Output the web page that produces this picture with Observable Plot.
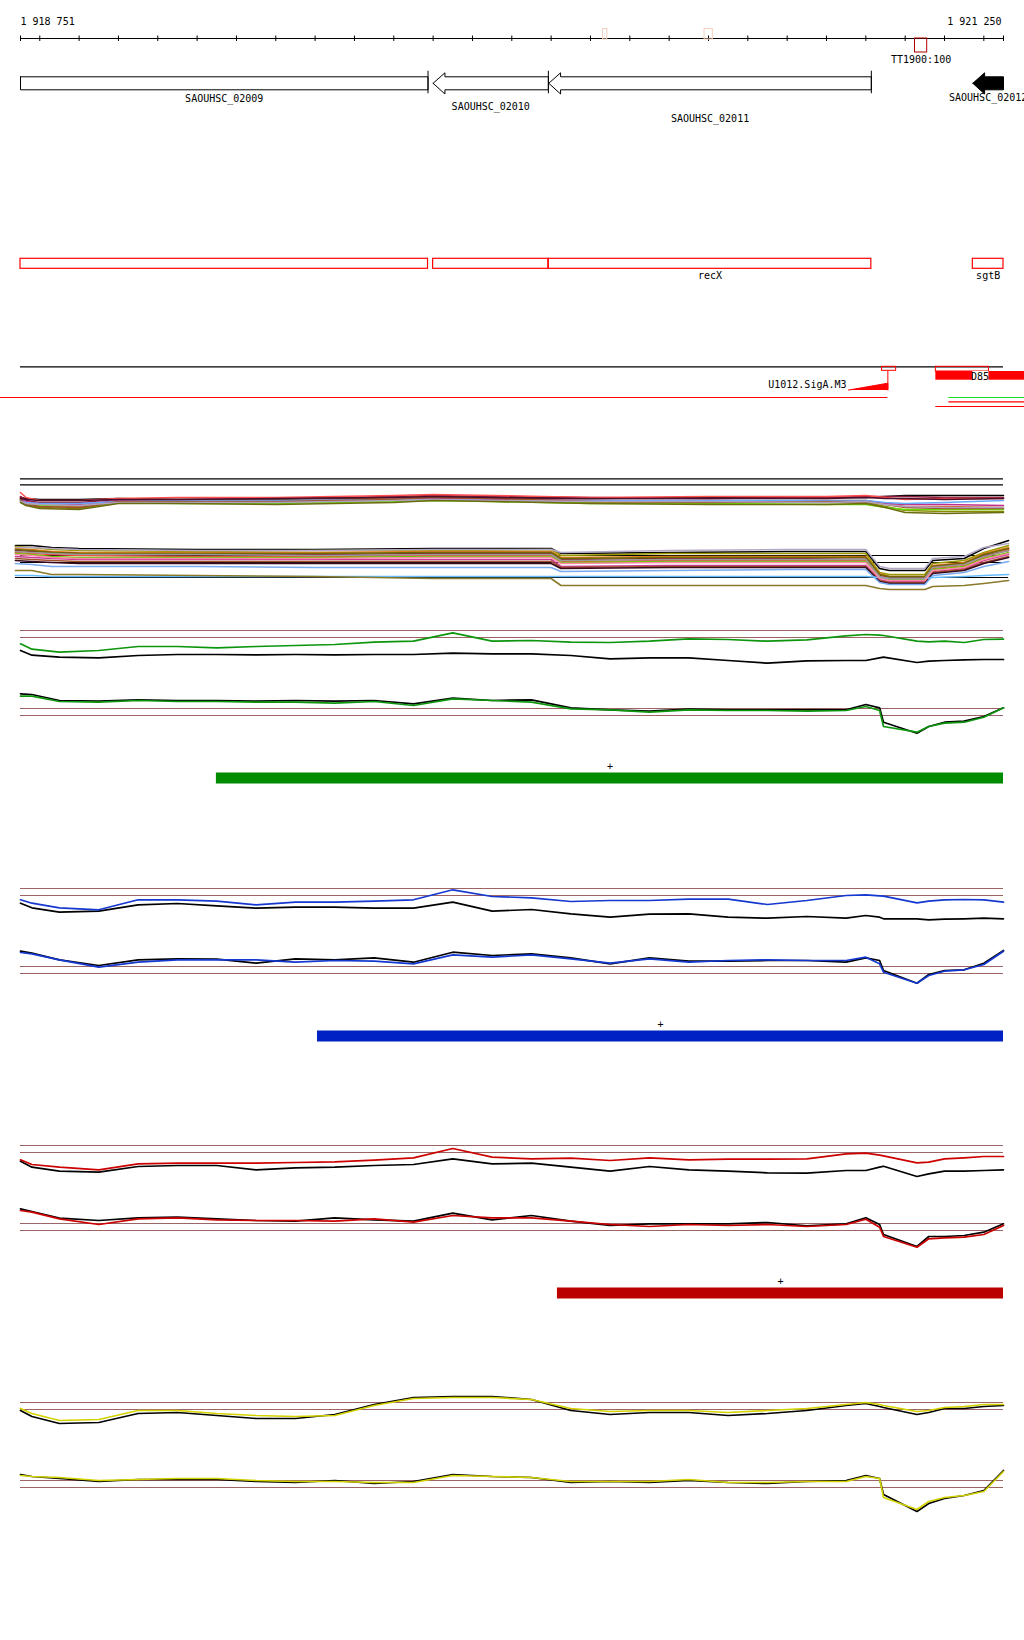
<!DOCTYPE html>
<html><head><meta charset="utf-8">
<script src="https://cdn.jsdelivr.net/npm/d3@7"></script>
<script src="https://cdn.jsdelivr.net/npm/@observablehq/plot@0.6"></script>
<style>
body{margin:0;background:#fff}
#wrap{position:relative;width:1024px;height:1640px;overflow:hidden;background:#fff}
#wrap>svg{position:absolute;left:0}
</style></head><body><div id="wrap"></div>
<script>
// ---------------- data ----------------
const START = 1918751, END = 1921250;
const rulerEnds = [1918751, 1921250];
const rulerTicks = [1918751,1918800,1918900,1919000,1919100,1919200,1919300,1919400,1919500,1919600,1919700,1919800,1919900,1920000,1920100,1920200,1920300,1920400,1920500,1920600,1920700,1920800,1920900,1921000,1921100,1921200,1921250];
const faintMarks = [{start:1920232,end:1920243},{start:1920490,end:1920511}];
const terminators = [{name:"TT1900:100",start:1921025,end:1921056}];
const geneNames = ["SAOUHSC_02009","SAOUHSC_02010","SAOUHSC_02011","SAOUHSC_02012"];
const geneSymbols = ["","","recX","sgtB"];
const geneStarts = [1918520,1919800,1920094,1921172];
const geneEnds = [1919787,1920093,1920914,1921700];
const geneStrands = ["-","-","-","-"];
const geneFilled = [false,false,false,true];
const promoters = [{name:"U1012.SigA.M3",start:1920856,site:1920956,boxStart:1920941,boxEnd:1920977,txStart:1918600}];
const d85 = {name:"D85",start:1921078,end:1921213,extent:1921500};
const sideTranscripts = [{start:1921111,end:1921500,color:"#22dd22"},{start:1921111,end:1921500,color:"#ff0000"},{start:1921078,end:1921500,color:"#ff0000"}];

// tiling-array profile positions
const P = [1918751,1918780,1918850,1918950,1919050,1919150,1919250,1919350,1919450,1919550,1919650,1919750,1919850,1919950,1920050,1920150,1920250,1920350,1920450,1920550,1920650,1920750,1920850,1920900,1920935,1920945,1921030,1921060,1921100,1921150,1921200,1921250];
const thresholds = [0,-0.7,-7.8,-8.5];

const greenUpperColor = [-1.33,-1.87,-2.17,-2.0,-1.6,-1.6,-1.73,-1.6,-1.5,-1.4,-1.17,-1.07,-0.23,-1.07,-1.0,-1.17,-1.2,-1.07,-0.83,-0.9,-1.07,-0.93,-0.53,-0.4,-0.47,-0.5,-1.07,-1.13,-1.07,-1.2,-0.9,-0.87];
const greenUpperBlack = [-2.0,-2.47,-2.67,-2.73,-2.5,-2.4,-2.4,-2.43,-2.4,-2.43,-2.4,-2.4,-2.27,-2.33,-2.33,-2.5,-2.83,-2.73,-2.73,-3.0,-3.27,-3.03,-3.0,-3.0,-2.73,-2.67,-3.2,-3.07,-3.0,-2.93,-2.9,-2.9];
const greenLowerColor = [-6.57,-6.57,-7.1,-7.17,-7.0,-7.1,-7.1,-7.17,-7.17,-7.27,-7.1,-7.5,-6.83,-7.0,-7.17,-7.83,-7.93,-8.17,-7.93,-8.0,-8.0,-8.07,-8.0,-7.6,-8.0,-9.6,-10.17,-9.6,-9.27,-9.17,-8.67,-7.73];
const greenLowerBlack = [-6.33,-6.4,-7.0,-7.07,-6.93,-7.0,-7.0,-7.07,-7.0,-7.07,-7.0,-7.33,-6.77,-7.0,-6.93,-7.73,-7.93,-8.07,-7.87,-7.93,-7.93,-7.93,-7.93,-7.4,-7.73,-9.17,-10.27,-9.6,-9.17,-9.07,-8.6,-7.73];

const blueUpperColor = [-1.13,-1.47,-1.93,-2.13,-1.13,-1.13,-1.27,-1.63,-1.37,-1.37,-1.27,-1.13,-0.13,-0.8,-0.93,-1.3,-1.2,-1.2,-1.07,-1.07,-1.6,-1.2,-0.7,-0.63,-0.73,-0.77,-1.43,-1.27,-1.13,-1.1,-1.13,-1.37];
const blueUpperBlack = [-1.47,-1.93,-2.37,-2.27,-1.63,-1.5,-1.73,-1.97,-1.87,-1.87,-1.97,-1.97,-1.37,-2.27,-2.1,-2.53,-2.87,-2.57,-2.53,-2.87,-2.97,-2.8,-2.97,-2.7,-2.87,-3.03,-3.03,-3.13,-3.07,-3.03,-2.97,-3.03];
const blueLowerColor = [-6.4,-6.53,-7.13,-7.87,-7.37,-7.13,-7.13,-7.13,-7.37,-7.2,-7.27,-7.53,-6.63,-6.87,-6.63,-7.03,-7.47,-7.03,-7.37,-7.2,-7.13,-7.2,-7.2,-6.87,-7.53,-8.37,-9.47,-8.7,-8.27,-8.13,-7.6,-6.27];
const blueLowerBlack = [-6.27,-6.47,-7.13,-7.7,-7.13,-7.03,-7.07,-7.47,-7.03,-7.13,-6.93,-7.37,-6.37,-6.7,-6.53,-6.93,-7.53,-6.93,-7.27,-7.27,-7.2,-7.2,-7.37,-6.93,-7.2,-8.2,-9.47,-8.6,-8.2,-8.13,-7.47,-6.2];

const redUpperColor = [-1.43,-1.9,-2.17,-2.43,-1.83,-1.77,-1.77,-1.77,-1.7,-1.63,-1.47,-1.23,-0.3,-1.17,-1.33,-1.27,-1.5,-1.23,-1.43,-1.37,-1.37,-1.33,-0.83,-0.77,-0.97,-1.03,-1.73,-1.67,-1.33,-1.23,-1.1,-1.1];
const redUpperBlack = [-1.57,-2.17,-2.57,-2.67,-2.1,-2.0,-2.0,-2.43,-2.23,-2.17,-2.0,-1.9,-1.33,-1.83,-1.77,-2.17,-2.57,-2.1,-2.43,-2.57,-2.73,-2.77,-2.5,-2.5,-2.17,-2.07,-3.1,-2.83,-2.57,-2.57,-2.5,-2.43];
const redLowerColor = [-6.5,-6.67,-7.33,-7.9,-7.33,-7.23,-7.43,-7.5,-7.5,-7.57,-7.33,-7.67,-7.0,-7.23,-7.23,-7.57,-7.9,-8.1,-7.9,-8.0,-7.9,-8.1,-7.9,-7.37,-8.17,-9.1,-10.17,-9.33,-9.23,-9.17,-8.9,-8.0];
const redLowerBlack = [-6.33,-6.6,-7.27,-7.5,-7.23,-7.17,-7.33,-7.5,-7.57,-7.23,-7.43,-7.57,-6.77,-7.43,-7.0,-7.57,-8.0,-7.83,-7.83,-7.83,-7.7,-8.03,-7.83,-7.23,-7.9,-8.9,-10.1,-9.1,-9.1,-9.0,-8.67,-7.83];

const yellowUpperColor = [-0.6,-1.1,-1.8,-1.7,-0.8,-0.8,-1.1,-1.3,-1.4,-1.3,-0.3,0.4,0.5,0.5,0.3,-0.6,-0.9,-0.8,-0.8,-1.0,-0.8,-0.6,-0.2,0.0,-0.2,-0.3,-0.9,-0.8,-0.5,-0.4,-0.2,-0.2];
const yellowUpperBlack = [-0.8,-1.4,-2.1,-2.0,-1.1,-1.0,-1.3,-1.6,-1.6,-1.2,-0.2,0.5,0.6,0.6,0.3,-0.8,-1.2,-1.0,-1.0,-1.3,-1.1,-0.8,-0.3,-0.1,-0.4,-0.5,-1.2,-1.0,-0.6,-0.6,-0.4,-0.3];
const yellowLowerColor = [-7.3,-7.4,-7.5,-7.8,-7.7,-7.6,-7.6,-7.8,-7.9,-7.9,-8.0,-8.0,-7.3,-7.4,-7.5,-7.9,-7.9,-7.9,-7.7,-8.0,-8.0,-7.9,-7.9,-7.4,-7.6,-9.5,-10.7,-9.9,-9.5,-9.3,-8.9,-6.9];
const yellowLowerBlack = [-7.2,-7.4,-7.6,-7.9,-7.7,-7.7,-7.7,-7.9,-8.0,-7.8,-8.1,-7.9,-7.2,-7.4,-7.5,-8.0,-7.9,-8.0,-7.8,-8.0,-8.1,-7.9,-7.8,-7.3,-7.6,-9.2,-10.9,-10.1,-9.6,-9.3,-8.8,-6.8];

const conditionNames = ["green","blue","red","yellow"];
const conditionColors = ["#0d960d","#1438d0","#cc0000","#d2d200"];
const transcriptStarts = [1919249,1919506,1920116,null];
const transcriptColors = ["#008c00","#0022c4","#bb0000",null];

// multi-condition overlay tracks
const G1P = [1918751,1918765,1918800,1918900,1919000,1919150,1919400,1919700,1919800,1919950,1920200,1920500,1920800,1920900,1920950,1921000,1921100,1921250];
const group1Series = [
 [4.3,4.2,4.1,4.1,4.2,4.1,4.1,4.2,4.3,4.3,4.2,4.3,4.3,4.3,4.4,4.5,4.5,4.5],
 [4.4,4.0,3.8,3.8,4.1,4.1,4.2,4.4,4.5,4.4,4.3,4.2,4.3,4.4,4.4,4.4,4.3,4.3],
 [4.1,3.8,3.5,3.4,4.0,4.0,4.0,4.2,4.4,4.2,4.0,3.9,4.0,4.0,3.7,3.4,3.4,3.3],
 [4.0,3.6,3.3,3.2,3.8,3.8,3.8,4.0,4.2,4.1,3.8,3.8,3.8,3.8,3.4,3.0,2.9,2.9],
 [3.9,3.7,3.5,3.5,3.8,3.7,3.7,3.9,4.0,3.9,3.7,3.7,3.6,3.6,3.3,3.1,3.1,3.1],
 [4.2,3.9,3.7,3.6,4.0,3.9,3.9,4.1,4.2,4.1,4.0,4.0,3.9,3.9,3.7,3.6,3.6,3.5],
 [4.0,3.8,3.7,3.7,3.9,4.0,4.0,4.1,4.1,4.0,4.0,4.0,4.0,4.0,3.8,3.7,3.8,4.0],
 [4.8,4.3,4.0,4.0,4.2,4.3,4.3,4.5,4.6,4.5,4.3,4.4,4.4,4.5,4.3,4.1,4.2,4.2],
 [4.1,3.6,3.4,3.3,3.9,3.9,3.9,4.1,4.3,4.2,3.9,3.8,3.9,3.9,3.6,3.3,3.2,3.2],
 [3.9,3.7,3.6,3.5,3.8,3.8,3.8,4.0,4.1,4.0,3.9,3.9,3.8,3.9,3.6,3.4,3.3,3.3],
 [3.8,3.5,3.2,3.1,3.7,3.7,3.6,3.8,4.0,3.9,3.7,3.6,3.6,3.7,3.3,2.8,2.7,2.8],
 [4.2,4.1,4.0,4.0,4.1,4.1,4.2,4.3,4.4,4.3,4.2,4.2,4.2,4.3,4.2,4.2,4.1,4.2]
];
const group1Colors = ["#000000","#8b1c3c","#d2691e","#8a8a00","#66dd00","#c0308c","#66aaff","#ff5050","#a0522d","#b0a0c0","#6b6b10","#4a0f2a"];
const group1Thresholds = [6.17,5.57];

const G2P = [1918738,1918780,1918830,1918900,1919200,1919500,1919800,1920100,1920125,1920400,1920700,1920900,1920935,1920960,1921050,1921070,1921150,1921200,1921263];
const group2Series = [
 [-0.5,-0.5,-0.7,-0.8,-0.9,-0.9,-0.8,-0.8,-1.3,-1.2,-1.1,-1.1,-2.8,-3.0,-3.0,-2.0,-1.8,-0.8,0.0],
 [-0.6,-0.7,-0.9,-1.0,-1.1,-1.0,-1.0,-0.9,-1.5,-1.3,-1.3,-1.3,-3.2,-3.4,-3.4,-2.3,-2.0,-1.2,-0.5],
 [-0.8,-0.9,-1.1,-1.2,-1.2,-1.2,-1.1,-1.1,-1.7,-1.6,-1.6,-1.6,-3.3,-3.6,-3.6,-2.5,-2.2,-1.3,-0.7],
 [-1.0,-1.1,-1.2,-1.3,-1.4,-1.4,-1.3,-1.3,-1.9,-1.8,-1.8,-1.7,-3.5,-3.7,-3.7,-2.6,-2.3,-1.5,-1.0],
 [-1.2,-1.3,-1.4,-1.5,-1.6,-1.6,-1.5,-1.5,-2.1,-2.0,-2.0,-2.0,-3.6,-3.8,-3.8,-2.8,-2.5,-1.7,-0.9],
 [-1.3,-1.4,-1.6,-1.7,-1.7,-1.7,-1.6,-1.6,-2.2,-2.1,-2.1,-2.1,-3.7,-3.9,-3.9,-2.9,-2.6,-1.8,-1.2],
 [-1.6,-1.7,-1.8,-1.9,-1.9,-1.9,-1.9,-1.9,-2.6,-2.5,-2.5,-2.5,-3.9,-4.1,-4.1,-3.1,-2.8,-2.0,-1.4],
 [-0.7,-0.7,-0.8,-0.9,-1.0,-1.0,-0.9,-0.9,-1.2,-1.0,-0.9,-0.9,-2.6,-2.8,-2.8,-1.8,-1.6,-0.7,-0.3],
 [-1.8,-1.9,-2.0,-2.1,-2.1,-2.1,-2.1,-2.1,-2.7,-2.6,-2.6,-2.6,-4.0,-4.2,-4.2,-3.2,-2.9,-2.2,-1.6],
 [-2.0,-2.1,-2.2,-2.3,-2.3,-2.3,-2.3,-2.3,-2.8,-2.7,-2.7,-2.7,-4.1,-4.3,-4.3,-3.3,-3.0,-2.3,-1.7],
 [-2.3,-2.4,-2.6,-2.6,-2.6,-2.7,-2.7,-2.7,-3.1,-3.0,-2.9,-2.9,-4.2,-4.4,-4.4,-3.5,-3.2,-2.6,-2.1],
 [-3.5,-3.5,-3.6,-3.6,-3.6,-3.6,-3.6,-3.6,-3.6,-3.6,-3.6,-3.6,-3.7,-3.8,-3.8,-3.7,-3.6,-3.5,-3.4],
 [-3.0,-3.0,-3.4,-3.4,-3.5,-3.6,-3.8,-3.8,-4.5,-4.5,-4.5,-4.5,-4.8,-4.9,-4.9,-4.6,-4.5,-4.3,-4.0],
 [-0.9,-1.0,-1.2,-1.3,-1.3,-1.3,-1.2,-1.2,-1.8,-1.7,-1.7,-1.7,-3.4,-3.6,-3.6,-2.6,-2.3,-1.4,-0.8],
 [-1.1,-1.2,-1.3,-1.4,-1.4,-1.5,-1.4,-1.4,-2.0,-1.9,-1.9,-1.9,-3.6,-3.8,-3.8,-2.7,-2.4,-1.6,-1.0],
 [-1.4,-1.5,-1.7,-1.8,-1.8,-1.8,-1.7,-1.7,-2.3,-2.2,-2.2,-2.2,-3.8,-4.0,-4.0,-3.0,-2.7,-1.9,-1.3]
];
const group2Colors = ["#000000","#9a9a00","#e07b20","#8b0a3a","#ff4040","#66cc00","#c83c96","#b4a8c8","#a0522d","#3a0a20","#77aaee","#66bbff","#8b7a2a","#6b6b00","#999999","#ff88aa"];
const group2Thresholds = [-1.5,-2.2];
const group2Base = [-3.7];

// ---------------- layout ----------------
const LAYOUT = {
  pxLeft: 20, pxRight: 1003,
  annTop: 0, annHeight: 420,
  rulerY: 38, tickY1: 35.5, tickY2: 41, rulerLabelY: 20.8,
  faintY1: 28.5, faintY2: 39,
  termY1: 38, termY2: 52, termLabelY: 59.3,
  bodyTop: 76.3, bodyBot: 89.3, headTop: 72.3, headBot: 93.5, mid: 82.8, tailTop: 70.7, tailBot: 93.3, headBp: 30,
  geneLabelY: [98.5, 106.3, 118.5, 97.5],
  symY1: 258.3, symY2: 268.3, symLabelY: 275.6,
  regY: 366.3, promBoxY2: 370.3, promStemBot: 389.3, rampTop: 382.7, rampBot: 389.6, promLabelY: 384,
  txY: 397, d85BoxY2: 371, d85FillY2: 379.7, d85LabelY: 376.6, sideY: [397, 401.3, 406],
  multiTop: 460, multiHeight: 140, multiDomain: [8, -6],
  condTops: [600, 858, 1115, 1372], condHeight: 257, condDomain: [3, -22.7],
  barY1: -14.25, barY2: -15.35, strandY: -13.6
};
const FONT = "DejaVu Sans Mono";
const brown = "#9c6464";
const pxPerBp = (LAYOUT.pxRight - LAYOUT.pxLeft) / (END - START);
const clampBp = v => Math.max(START, Math.min(END, v));
const fmtPos = d => d3.format(",")(d).replace(/,/g, " ");
const wrap = document.getElementById("wrap");
function mount(svg, top){ svg.style.top = top + "px"; wrap.appendChild(svg); }
const base = (height, yDomain) => ({
  width: 1024, height, margin: 0,
  x: {domain: [START, END], range: [LAYOUT.pxLeft, LAYOUT.pxRight], axis: null},
  y: {domain: yDomain, range: [0, height], axis: null},
  style: {background: "transparent", fontFamily: FONT, fontSize: "10px", overflow: "hidden"}
});

// ---------------- annotation panel ----------------
const genes = geneNames.map((n, i) => ({name: n, symbol: geneSymbols[i], start: geneStarts[i], end: geneEnds[i], strand: geneStrands[i], filled: geneFilled[i]}));
function genePolygon(g){
  const L = LAYOUT, a = clampBp(g.start), b = clampBp(g.end), h = L.headBp;
  if (g.start < START) return [[a,L.bodyTop],[b,L.bodyTop],[b,L.bodyBot],[a,L.bodyBot],[a,L.bodyTop]];
  return [[g.start,L.mid],[g.start+h,L.headTop],[g.start+h,L.bodyTop],[b,L.bodyTop],[b,L.bodyBot],[g.start+h,L.bodyBot],[g.start+h,L.headBot],[g.start,L.mid]];
}
const L = LAYOUT;
const p = promoters[0];
const d85LabelStart = d85.end - 16 / pxPerBp;
const annMarks = [
  Plot.ruleY([L.rulerY], {x1: START, x2: END, stroke: "black", strokeWidth: 1}),
  Plot.ruleX(rulerTicks, {y1: L.tickY1, y2: L.tickY2, stroke: "black", strokeWidth: 1}),
  Plot.text([rulerEnds[0]], {x: d => d, y: L.rulerLabelY, text: fmtPos, textAnchor: "start", fontFamily: FONT, fontSize: 10, fill: "black"}),
  Plot.text([rulerEnds[1]], {x: d => d, y: L.rulerLabelY, text: fmtPos, textAnchor: "end", dx: -2, fontFamily: FONT, fontSize: 10, fill: "black"}),
  Plot.rect(faintMarks, {x1: "start", x2: "end", y1: L.faintY1, y2: L.faintY2, fill: "none", stroke: "#f4cdbd"}),
  Plot.rect(terminators, {x1: "start", x2: "end", y1: L.termY1, y2: L.termY2, fill: "none", stroke: "#b00000"}),
  Plot.text(terminators, {x: d => (d.start + d.end) / 2, y: L.termLabelY, text: "name", fontFamily: FONT, fontSize: 10, fill: "black"}),
  ...genes.map(g => Plot.line(genePolygon(g), {x: d => d[0], y: d => d[1], fill: g.filled ? "black" : "white", stroke: "black", strokeWidth: 1, strokeLinejoin: "miter"})),
  Plot.ruleX(genes.filter(g => g.end <= END), {x: "end", y1: L.tailTop, y2: L.tailBot, stroke: "black", strokeWidth: 1}),
  Plot.text(genes, {x: d => (clampBp(d.start) + clampBp(d.end)) / 2, y: (d, i) => L.geneLabelY[i], text: "name", fontFamily: FONT, fontSize: 10, fill: "black"}),
  Plot.rect(genes, {x1: d => clampBp(d.start), x2: d => clampBp(d.end), y1: L.symY1, y2: L.symY2, fill: "none", stroke: "#ff0000", strokeWidth: 1.2}),
  Plot.text(genes.filter(g => g.symbol), {x: d => (clampBp(d.start) + clampBp(d.end)) / 2, y: L.symLabelY, text: "symbol", fontFamily: FONT, fontSize: 10, fill: "black"}),
  Plot.ruleY([L.regY], {x1: START, x2: END, stroke: "black", strokeWidth: 1.2}),
  Plot.ruleY([L.txY], {x1: p.txStart, x2: p.site, stroke: "#ff0000", strokeWidth: 1.2}),
  Plot.line([[p.start, L.rampBot], [p.site, L.rampTop], [p.site, L.rampBot]], {x: d => d[0], y: d => d[1], fill: "#ff0000", stroke: "#ff0000", strokeWidth: 1}),
  Plot.ruleX([p.site], {y1: L.promBoxY2, y2: L.promStemBot, stroke: "#ff0000", strokeWidth: 1}),
  Plot.rect([p], {x1: "boxStart", x2: "boxEnd", y1: L.regY, y2: L.promBoxY2, fill: "none", stroke: "#ff0000"}),
  Plot.text([p], {x: "start", y: L.promLabelY, text: "name", textAnchor: "end", dx: -2, fontFamily: FONT, fontSize: 10, fill: "black"}),
  Plot.rect([d85], {x1: "start", x2: "end", y1: L.regY, y2: L.d85BoxY2, fill: "none", stroke: "#ff0000"}),
  Plot.rect([d85], {x1: "start", x2: "extent", y1: L.d85BoxY2, y2: L.d85FillY2, fill: "#ff0000"}),
  Plot.rect([d85], {x1: () => d85LabelStart, x2: "end", y1: L.d85BoxY2, y2: L.d85FillY2, fill: "white"}),
  Plot.text([d85], {x: "end", y: L.d85LabelY, text: "name", textAnchor: "end", fontFamily: FONT, fontSize: 10, fill: "black"}),
  ...sideTranscripts.map((t, i) => Plot.ruleY([L.sideY[i]], {x1: t.start, x2: t.end, stroke: t.color, strokeWidth: 1.2}))
];
mount(Plot.plot({...base(L.annHeight, [0, L.annHeight]), marks: annMarks}), L.annTop);

// ---------------- overlay tracks ----------------
const multiMarks = [
  Plot.ruleY(group1Thresholds, {x1: START, x2: END, stroke: "black", strokeWidth: 1.2}),
  Plot.ruleY(group2Thresholds, {x1: START, x2: END, stroke: "black", strokeWidth: 1.2}),
  Plot.ruleY(group2Base, {x1: G2P[0], x2: G2P[G2P.length - 1], stroke: "black", strokeWidth: 1.2}),
  ...group1Series.map((s, k) => Plot.line(s, {x: (d, i) => G1P[i], y: d => d, stroke: group1Colors[k], strokeWidth: 1.6})),
  ...group2Series.map((s, k) => Plot.line(s, {x: (d, i) => G2P[i], y: d => d, stroke: group2Colors[k], strokeWidth: 1.6}))
];
mount(Plot.plot({...base(L.multiHeight, L.multiDomain), marks: multiMarks}), L.multiTop);

// ---------------- condition panels ----------------
const upperColor = [greenUpperColor, blueUpperColor, redUpperColor, yellowUpperColor];
const upperBlack = [greenUpperBlack, blueUpperBlack, redUpperBlack, yellowUpperBlack];
const lowerColor = [greenLowerColor, blueLowerColor, redLowerColor, yellowLowerColor];
const lowerBlack = [greenLowerBlack, blueLowerBlack, redLowerBlack, yellowLowerBlack];
conditionNames.forEach((name, k) => {
  const col = conditionColors[k];
  const line = (vals, stroke) => Plot.line(vals, {x: (d, i) => P[i], y: d => d, stroke, strokeWidth: 1.7});
  const marks = [
    Plot.ruleY(thresholds, {x1: START, x2: END, stroke: brown, strokeWidth: 1.2}),
    line(upperBlack[k], "black"),
    line(upperColor[k], col),
    line(lowerBlack[k], "black"),
    line(lowerColor[k], col)
  ];
  if (transcriptStarts[k] !== null) {
    const tx = [{start: transcriptStarts[k], end: END, strand: "+"}];
    marks.push(Plot.rect(tx, {x1: "start", x2: "end", y1: L.barY1, y2: L.barY2, fill: transcriptColors[k]}));
    marks.push(Plot.text(tx, {x: d => (d.start + d.end) / 2, y: L.strandY, text: "strand", fontFamily: FONT, fontSize: 10, fill: "black"}));
  }
  mount(Plot.plot({...base(L.condHeight, L.condDomain), marks}), L.condTops[k]);
});
</script></body></html>
